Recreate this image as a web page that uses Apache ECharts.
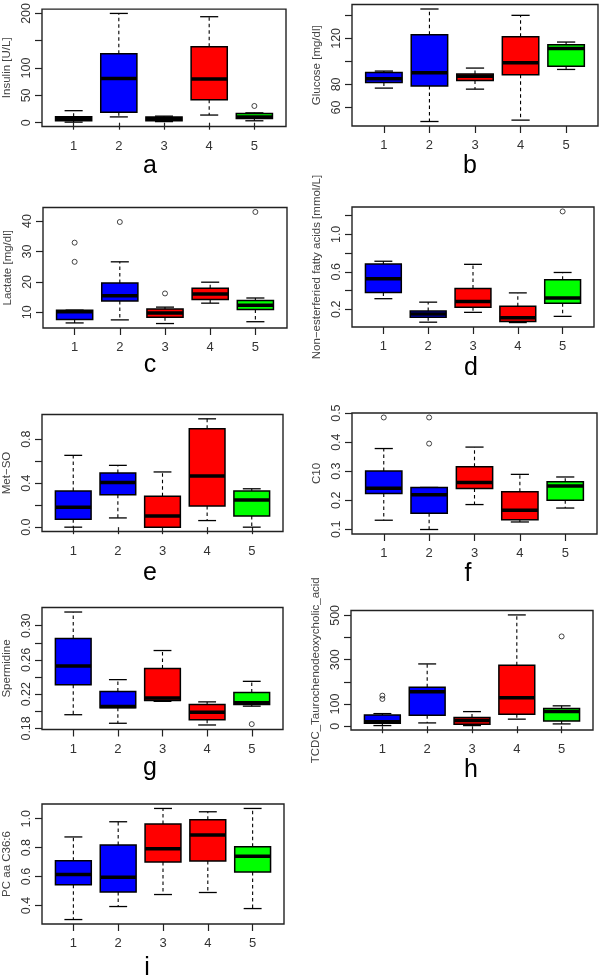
<!DOCTYPE html>
<html><head><meta charset="utf-8">
<script src="https://cdn.jsdelivr.net/npm/echarts@6/dist/echarts.min.js"></script>
<style>html,body{margin:0;padding:0;background:#fff}#c{width:600px;height:975px}</style>
</head><body><div id="c"></div>
<script>
const groups = [1, 2, 3, 4, 5];
const groupLabels = ['1', '2', '3', '4', '5'];
const groupColors = ['#0000FF', '#0000FF', '#FF0000', '#FF0000', '#00FF00'];

// each box: [lower whisker, Q1, median, Q3, upper whisker]
const insulinBoxes = [[1, 3.5, 7, 11, 22], [10.6, 19, 81, 126, 200], [2, 3.5, 7, 10.6, 12], [14, 42, 80, 139, 194], [3.5, 7.6, 10.6, 17, 18]];
const insulinOutliers = [[5, 30.6]];
const insulinTicks = [0, 50, 100, 150, 200];
const insulinLabels = ['0', '50', '100', '200'];

const glucoseBoxes = [[76.8, 81.7, 84.9, 90.4, 91.6], [47.8, 78.6, 90.1, 123.2, 145.5], [75.9, 83.5, 87, 89, 94.2], [49, 88.4, 98.8, 121.4, 140], [93, 95.7, 111.3, 114.5, 116.8]];
const glucoseOutliers = [];
const glucoseTicks = [60, 80, 100, 120, 140];
const glucoseLabels = ['60', '80', '120'];

const lactateBoxes = [[6.5, 7.6, 10.2, 10.7, 10.7], [7.5, 13.7, 15.4, 19.6, 26.6], [6.3, 8.4, 9.8, 11.1, 11.7], [13, 14.2, 16, 17.9, 19.9], [6.9, 10.9, 12.3, 13.9, 14.7]];
const lactateOutliers = [[1, 32.9], [1, 26.6], [2, 39.7], [3, 16.2], [5, 43]];
const lactateTicks = [10, 20, 30, 40];
const lactateLabels = ['10', '20', '30', '40'];

const nefaBoxes = [[0.313, 0.378, 0.527, 0.684, 0.713], [0.062, 0.116, 0.149, 0.182, 0.276], [0.167, 0.222, 0.284, 0.422, 0.68], [0.058, 0.069, 0.109, 0.233, 0.375], [0.124, 0.265, 0.32, 0.516, 0.593]];
const nefaOutliers = [[5, 1.245]];
const nefaTicks = [0.2, 0.4, 0.6, 0.8, 1.0, 1.2];
const nefaLabels = ['0.2', '0.6', '1.0'];

const metsoBoxes = [[0, 0.072, 0.18, 0.328, 0.653], [0.084, 0.295, 0.406, 0.493, 0.562], [0, 0, 0.102, 0.28, 0.502], [0.06, 0.192, 0.466, 0.895, 0.985], [0, 0.102, 0.247, 0.328, 0.349]];
const metsoOutliers = [];
const metsoTicks = [0, 0.2, 0.4, 0.6, 0.8];
const metsoLabels = ['0.0', '0.4', '0.8'];

const c10Boxes = [[0.131, 0.223, 0.241, 0.301, 0.378], [0.099, 0.155, 0.219, 0.244, 0.244], [0.185, 0.24, 0.261, 0.315, 0.383], [0.125, 0.133, 0.165, 0.229, 0.289], [0.173, 0.2, 0.249, 0.264, 0.28]];
const c10Outliers = [[1, 0.485], [2, 0.485], [2, 0.395]];
const c10Ticks = [0.1, 0.2, 0.3, 0.4, 0.5];
const c10Labels = ['0.1', '0.2', '0.3', '0.4', '0.5'];

const spermidineBoxes = [[0.196, 0.231, 0.253, 0.285, 0.316], [0.186, 0.204, 0.2055, 0.223, 0.237], [0.2116, 0.2125, 0.2156, 0.25, 0.271], [0.184, 0.19, 0.199, 0.208, 0.211], [0.206, 0.208, 0.21, 0.222, 0.235]];
const spermidineOutliers = [[5, 0.185]];
const spermidineTicks = [0.18, 0.20, 0.22, 0.24, 0.26, 0.28, 0.30];
const spermidineLabels = ['0.18', '0.22', '0.26', '0.30'];

const tcdcBoxes = [[3, 13.5, 20, 51, 57], [15, 50, 155, 176, 281], [3, 9, 26, 39, 66], [32, 54, 129, 275, 502], [10.5, 24, 66, 80, 92]];
const tcdcOutliers = [[1, 138], [1, 123], [5, 405]];
const tcdcTicks = [0, 100, 200, 300, 400, 500];
const tcdcLabels = ['0', '100', '300', '500'];

const pcBoxes = [[0.303, 0.543, 0.614, 0.71, 0.874], [0.393, 0.494, 0.595, 0.818, 0.979], [0.476, 0.701, 0.793, 0.963, 1.071], [0.49, 0.708, 0.887, 0.993, 1.048], [0.379, 0.632, 0.74, 0.807, 1.071]];
const pcOutliers = [];
const pcTicks = [0.4, 0.6, 0.8, 1.0];
const pcLabels = ['0.4', '0.6', '0.8', '1.0'];

const panels = [
  {name: 'Insulin [U/L]', boxes: insulinBoxes, out: insulinOutliers, ticks: insulinTicks, labels: insulinLabels, letter: 'a', grid: [42, 5, 244, 121.5], lpos: [150, 166]},
  {name: 'Glucose [mg/dl]', boxes: glucoseBoxes, out: glucoseOutliers, ticks: glucoseTicks, labels: glucoseLabels, letter: 'b', grid: [352, 4.5, 246, 121.5], lpos: [470, 166]},
  {name: 'Lactate [mg/dl]', boxes: lactateBoxes, out: lactateOutliers, ticks: lactateTicks, labels: lactateLabels, letter: 'c', grid: [43, 207.5, 244, 120.5], lpos: [150, 365]},
  {name: 'Non\u2212esterferied fatty acids [mmol/L]', boxes: nefaBoxes, out: nefaOutliers, ticks: nefaTicks, labels: nefaLabels, letter: 'd', grid: [352, 207, 242, 120], lpos: [471, 368]},
  {name: 'Met\u2212SO', boxes: metsoBoxes, out: metsoOutliers, ticks: metsoTicks, labels: metsoLabels, letter: 'e', grid: [42, 414.5, 241, 117], lpos: [150, 573]},
  {name: 'C10', boxes: c10Boxes, out: c10Outliers, ticks: c10Ticks, labels: c10Labels, letter: 'f', grid: [352, 413, 245, 121], lpos: [468, 574]},
  {name: 'Spermidine', boxes: spermidineBoxes, out: spermidineOutliers, ticks: spermidineTicks, labels: spermidineLabels, letter: 'g', grid: [41, 607.5, 242, 122], lpos: [150, 768]},
  {name: 'TCDC_Taurochenodeoxycholic_acid', boxes: tcdcBoxes, out: tcdcOutliers, ticks: tcdcTicks, labels: tcdcLabels, letter: 'h', grid: [351, 610.5, 242, 119.5], lpos: [471, 770.5]},
  {name: 'PC aa C36:6', boxes: pcBoxes, out: pcOutliers, ticks: pcTicks, labels: pcLabels, letter: 'i', grid: [41, 804, 243, 120], lpos: [147, 968]}
];

const FONT = '"Liberation Sans", Arial, Helvetica, sans-serif';

function renderBox(params, api) {
  const x = api.value(0);
  const c = v => api.coord([x, v]);
  const pMin = c(api.value(1)), pQ1 = c(api.value(2)), pMed = c(api.value(3)), pQ3 = c(api.value(4)), pMax = c(api.value(5));
  const half = api.size([0.4, 0])[0];
  const capHalf = api.size([0.2, 0])[0];
  const cx = pMed[0];
  const fill = groupColors[params.dataIndex];
  const dash = {stroke: '#000', lineWidth: 1.1, lineDash: [3.5, 3]};
  const solid = {stroke: '#000', lineWidth: 1.3};
  return {type: 'group', children: [
    {type: 'line', shape: {x1: cx, y1: pQ3[1], x2: cx, y2: pMax[1]}, style: dash},
    {type: 'line', shape: {x1: cx, y1: pQ1[1], x2: cx, y2: pMin[1]}, style: dash},
    {type: 'line', shape: {x1: cx - capHalf, y1: pMax[1], x2: cx + capHalf, y2: pMax[1]}, style: solid},
    {type: 'line', shape: {x1: cx - capHalf, y1: pMin[1], x2: cx + capHalf, y2: pMin[1]}, style: solid},
    {type: 'rect', shape: {x: cx - half, y: pQ3[1], width: 2 * half, height: pQ1[1] - pQ3[1]}, style: {fill: fill, stroke: '#000', lineWidth: 1.5}},
    {type: 'line', shape: {x1: cx - half, y1: pMed[1], x2: cx + half, y2: pMed[1]}, style: {stroke: '#000', lineWidth: 3.5}}
  ]};
}

const grid = [], xAxis = [], yAxis = [], series = [], graphic = [];
panels.forEach((p, i) => {
  const vals = p.boxes.flat().concat(p.out.map(o => o[1]));
  const lo = Math.min(...vals), hi = Math.max(...vals);
  const pad = 0.04 * (hi - lo);
  grid.push({left: p.grid[0], top: p.grid[1], width: p.grid[2], height: p.grid[3], show: true,
    borderColor: '#222', borderWidth: 1.4, backgroundColor: 'transparent', containLabel: false});
  xAxis.push({type: 'value', gridIndex: i, min: 0.3, max: 5.7,
    axisLine: {show: false}, splitLine: {show: false},
    axisTick: {show: true, inside: false, length: 7, customValues: groups, lineStyle: {color: '#222', width: 1.2}},
    axisLabel: {customValues: groups, margin: 13, fontSize: 13, color: '#333', fontFamily: FONT,
      formatter: v => groupLabels[groups.indexOf(v)]}});
  yAxis.push({type: 'value', gridIndex: i, min: lo - pad, max: hi + pad,
    name: p.name, nameLocation: 'middle', nameGap: 29,
    nameTextStyle: {fontSize: 11.5, color: '#444', fontFamily: FONT},
    axisLine: {show: false}, splitLine: {show: false},
    axisTick: {show: true, inside: false, length: 7, customValues: p.ticks, lineStyle: {color: '#222', width: 1.2}},
    axisLabel: {customValues: p.labels.map(Number), rotate: 90, margin: 9, fontSize: 12.5, color: '#333', fontFamily: FONT,
      formatter: v => { const k = p.labels.map(Number).indexOf(v); return k >= 0 ? p.labels[k] : ''; }}});
  series.push({type: 'custom', xAxisIndex: i, yAxisIndex: i, renderItem: renderBox,
    encode: {x: 0, y: [1, 2, 3, 4, 5]},
    data: p.boxes.map((b, k) => [groups[k]].concat(b)), silent: true, z: 2});
  series.push({type: 'scatter', xAxisIndex: i, yAxisIndex: i, data: p.out, symbol: 'circle', symbolSize: 5,
    itemStyle: {color: 'rgba(0,0,0,0)', borderColor: '#000', borderWidth: 0.9}, silent: true, z: 3});
  graphic.push({type: 'text', x: p.lpos[0], y: p.lpos[1],
    style: {text: p.letter, font: '25px ' + FONT, fill: '#000', align: 'center', verticalAlign: 'middle'}});
});

const chart = echarts.init(document.getElementById('c'), null, {renderer: 'canvas'});
chart.setOption({animation: false, backgroundColor: '#fff', grid, xAxis, yAxis, series, graphic});
</script>
</body></html>
